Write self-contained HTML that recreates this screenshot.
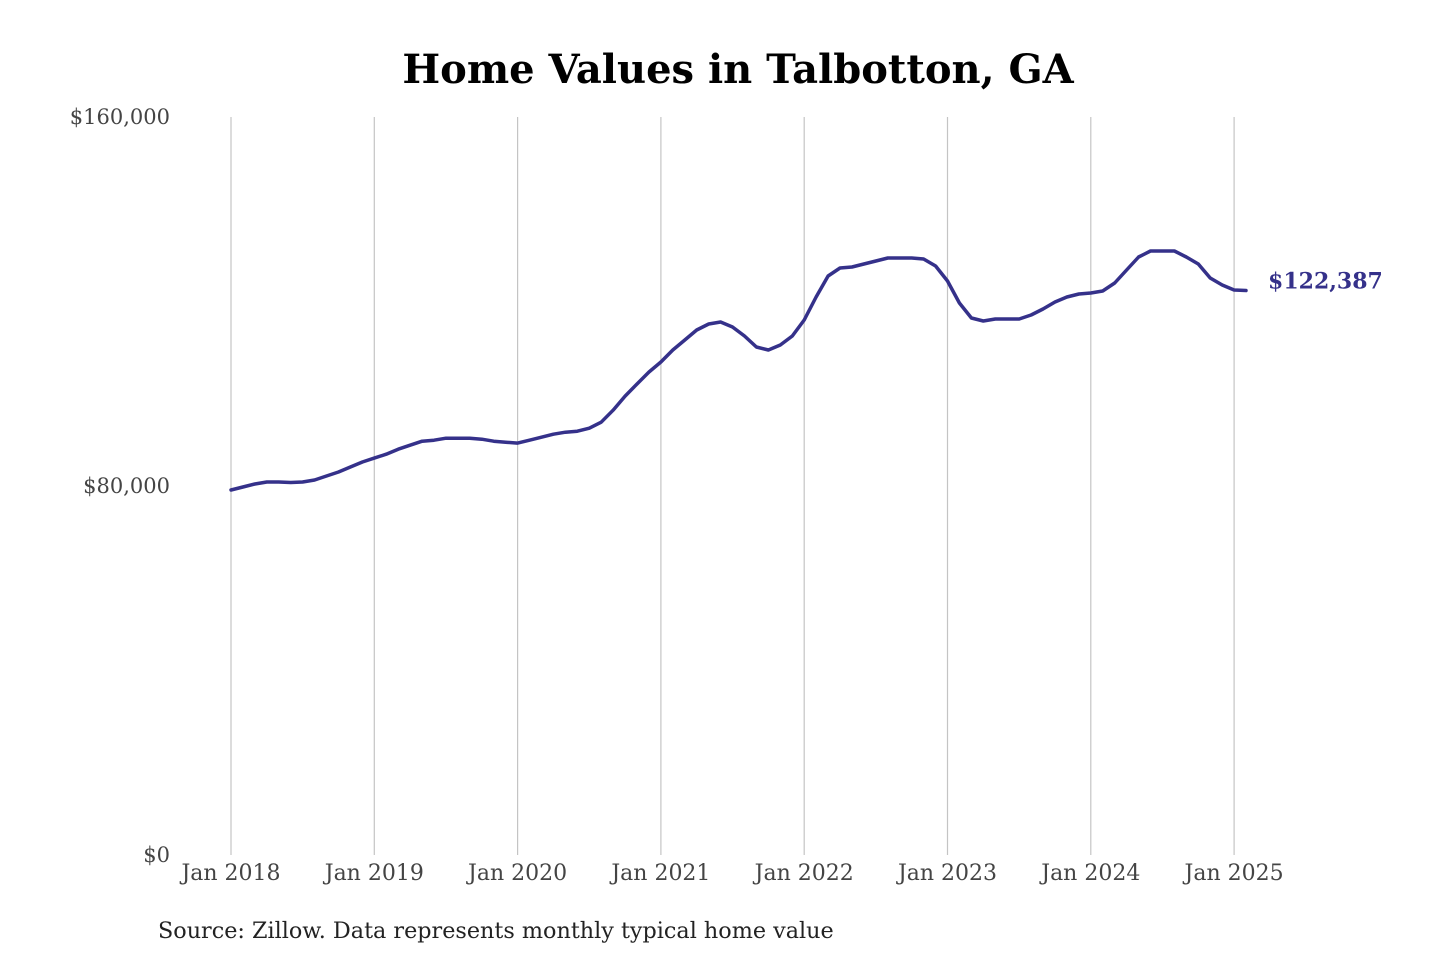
<!DOCTYPE html>
<html><head><meta charset="utf-8"><style>
html,body{margin:0;padding:0;background:#fff;}
svg{display:block;font-family:"DejaVu Serif","Liberation Serif",serif;}
</style></head><body>
<svg id="chart" width="1440" height="960" viewBox="0 0 1440 960">
<text x="738" y="83" text-anchor="middle" font-size="40" font-weight="bold" fill="#000">Home Values in Talbotton, GA</text>
<g id="grid"></g><g id="yaxis"></g><g id="xaxis"></g><g id="series"></g>
<text x="158" y="938" font-size="22.3" fill="#222">Source: Zillow. Data represents monthly typical home value</text>
</svg>
<script>
const yTicks=[0,80000,160000];
const yTickLabels=["$0","$80,000","$160,000"];
const xTickYears=[2018,2019,2020,2021,2022,2023,2024,2025];
const xTickLabels=["Jan 2018","Jan 2019","Jan 2020","Jan 2021","Jan 2022","Jan 2023","Jan 2024","Jan 2025"];
const startYear=2018;
const values=[79130,79780,80430,80870,80870,80760,80870,81300,82170,83040,84120,85200,
86040,86900,87980,88850,89720,89940,90370,90370,90370,90150,89720,89500,
89290,89940,90590,91240,91670,91890,92540,93840,96440,99480,102110,104710,
106880,109480,111650,113820,115120,115550,114470,112520,110130,109480,110570,112520,
115990,120970,125530,127260,127480,128130,128780,129430,129430,129430,129210,127700,
124440,119670,116420,115770,116200,116200,116200,117070,118370,119890,120970,121620,
121840,122280,124010,126830,129650,130950,130950,130950,129650,128130,125090,123580,
122490,122387];
const finalLabel="$122,387";
const NS="http://www.w3.org/2000/svg";
const x0=231,xYear=143.3,yBase=855,yTop=117;
const xs=m=>x0+m*xYear/12;
const ys=v=>yBase-v/160000*(yBase-yTop);
function mk(t,a,p){const e=document.createElementNS(NS,t);for(const k in a)e.setAttribute(k,a[k]);p.appendChild(e);return e;}
const grid=document.getElementById('grid'),ya=document.getElementById('yaxis'),xa=document.getElementById('xaxis'),se=document.getElementById('series');
xTickYears.forEach((yr,i)=>{
 const x=xs((yr-startYear)*12);
 const l=mk('line',{x1:x,x2:x,y1:yTop,y2:yBase,stroke:'#c4c4c4','stroke-width':1.2},grid);
 
 
 const t=mk('text',{x:x,y:880,'text-anchor':'middle','font-size':22,fill:'#444'},xa);
 t.textContent=xTickLabels[i];
 
 
});
yTicks.forEach((v,i)=>{
 const t=mk('text',{x:170,y:ys(v)+7,'text-anchor':'end','font-size':21,fill:'#444'},ya);
 t.textContent=yTickLabels[i];
 
 
});
const d=values.map((v,i)=>(i?'L':'M')+xs(i).toFixed(1)+','+ys(v).toFixed(1)).join(' ');
const p=mk('path',{d:d,fill:'none',stroke:'#35318a','stroke-width':3.5,'stroke-linejoin':'round','stroke-linecap':'round'},se);


const last=values.length-1;
const lt=mk('text',{x:xs(last)+22,y:ys(values[last])-2,'font-size':22,'font-weight':'bold',fill:'#35318a'},se);
lt.textContent=finalLabel;


</script>
</body></html>
